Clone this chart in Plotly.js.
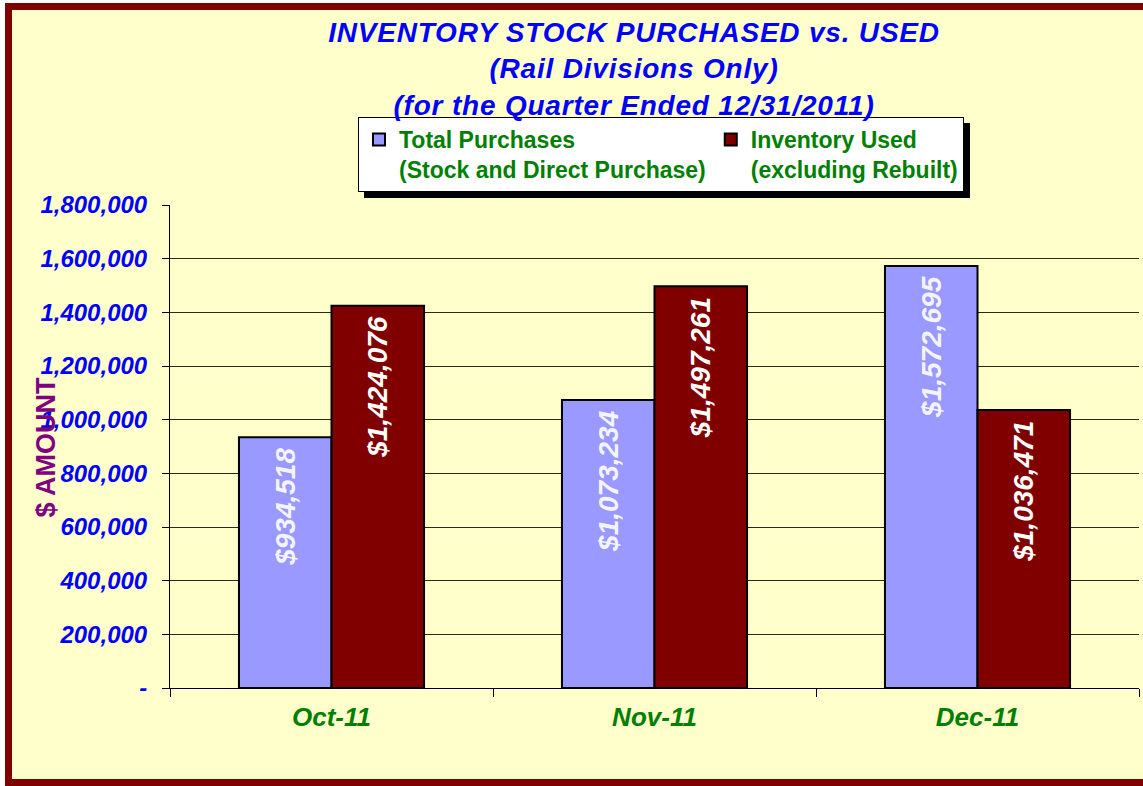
<!DOCTYPE html>
<html>
<head>
<meta charset="utf-8">
<script src="https://cdn.plot.ly/plotly-3.0.1.min.js"></script>
<style>
  html, body { margin: 0; padding: 0; width: 1143px; height: 786px; overflow: hidden; background: #ffffff; }
  #frame { position: absolute; left: 5px; top: 3px; width: 1160px; height: 769px; background: #FFFFCC; border: 7px solid #800000; border-right: none; }
  #chart { position: absolute; left: 0; top: 0; width: 1143px; height: 786px; }
  #chart .gtitle { letter-spacing: 0.8px; }
</style>
</head>
<body>
<div id="frame"></div>
<div id="chart"></div>
<script>
const categories = ["Oct-11", "Nov-11", "Dec-11"];
const seriesNames = ["Total Purchases<br>(Stock and Direct Purchase)", "Inventory Used<br>(excluding Rebuilt)"];
const totalPurchases = [934518, 1073234, 1572695];
const inventoryUsed = [1424076, 1497261, 1036471];
const yTickVals = [0, 200000, 400000, 600000, 800000, 1000000, 1200000, 1400000, 1600000, 1800000];
const yTickText = ["-", "200,000", "400,000", "600,000", "800,000", "1,000,000", "1,200,000", "1,400,000", "1,600,000", "1,800,000"];
const titleText = "INVENTORY STOCK PURCHASED vs. USED<br>(Rail Divisions Only)<br>(for the Quarter Ended 12/31/2011)";

const FONT = "Liberation Sans, Arial, sans-serif";
const W = 1143, H = 786;
const L = 170, R = 4, T = 205, B = 98;
const pw = W - L - R, ph = H - T - B;
const px = v => (v - L) / pw;
const py = v => (H - B - v) / ph;

function labelFont(color) {
  return { family: FONT, size: 28, color: color, weight: "bold", style: "italic" };
}

const traces = [
  {
    type: "bar", name: seriesNames[0], x: categories, y: totalPurchases,
    marker: { color: "#9999FF", line: { color: "#000000", width: 2 } },
    texttemplate: "$%{y:,}\u00a0", textposition: "inside", insidetextanchor: "end",
    textangle: -90, constraintext: "none",
    insidetextfont: labelFont("#F4F4FF"), hoverinfo: "skip"
  },
  {
    type: "bar", name: seriesNames[1], x: categories, y: inventoryUsed,
    marker: { color: "#800000", line: { color: "#000000", width: 2 } },
    texttemplate: "$%{y:,}\u00a0", textposition: "inside", insidetextanchor: "end",
    textangle: -90, constraintext: "none",
    insidetextfont: labelFont("#FFFFFF"), hoverinfo: "skip"
  }
];

const layout = {
  width: W, height: H,
  margin: { l: L, r: R, t: T, b: B, pad: 0, autoexpand: false },
  paper_bgcolor: "rgba(0,0,0,0)",
  plot_bgcolor: "rgba(0,0,0,0)",
  barmode: "group", bargap: 0.427, bargroupgap: 0,
  showlegend: true,
  title: {
    text: titleText,
    font: { family: FONT, size: 28, color: "#0000FF", weight: "bold", style: "italic" },
    xref: "paper", x: px(634), xanchor: "center",
    yref: "container", y: 1 - 42 / H, yanchor: "top"
  },
  legend: {
    orientation: "h",
    x: px(358), xanchor: "left", xref: "paper",
    y: py(117), yanchor: "top", yref: "paper",
    bgcolor: "#FFFFFF", bordercolor: "#000000", borderwidth: 1,
    font: { family: FONT, size: 23, color: "#008000", weight: "bold" },
    valign: "top", itemclick: false, itemdoubleclick: false
  },
  xaxis: {
    type: "category",
    showline: true, linecolor: "#000000", linewidth: 1,
    ticks: "outside", tickson: "boundaries", ticklen: 8, tickcolor: "#000000", tickwidth: 1,
    showgrid: false, zeroline: false,
    tickfont: { family: FONT, size: 26, color: "#008000", weight: "bold", style: "italic" },
    ticklabelstandoff: 6, fixedrange: true
  },
  yaxis: {
    range: [0, 1800000],
    tickvals: yTickVals, ticktext: yTickText,
    showline: true, linecolor: "#000000", linewidth: 1,
    ticks: "outside", ticklen: 7, tickcolor: "#000000", tickwidth: 1,
    showgrid: true, gridcolor: "#2a2a1a", gridwidth: 1,
    zeroline: false,
    tickfont: { family: FONT, size: 24, color: "#0000FF", weight: "bold", style: "italic" },
    ticklabelstandoff: 10, fixedrange: true
  },
  shapes: [
    {
      type: "rect", xref: "paper", yref: "paper", layer: "above",
      x0: px(364), x1: px(970), y0: py(198), y1: py(123),
      fillcolor: "#000000", line: { width: 0 }
    }
  ],
  annotations: [
    {
      text: "$ AMOUNT", xref: "paper", yref: "paper",
      x: px(45), y: 0.5, xanchor: "center", yanchor: "middle",
      textangle: -90, showarrow: false,
      font: { family: FONT, size: 27, color: "#800080", weight: "bold" }
    }
  ]
};

Plotly.newPlot("chart", traces, layout, { staticPlot: true, displayModeBar: false });
</script>
</body>
</html>
